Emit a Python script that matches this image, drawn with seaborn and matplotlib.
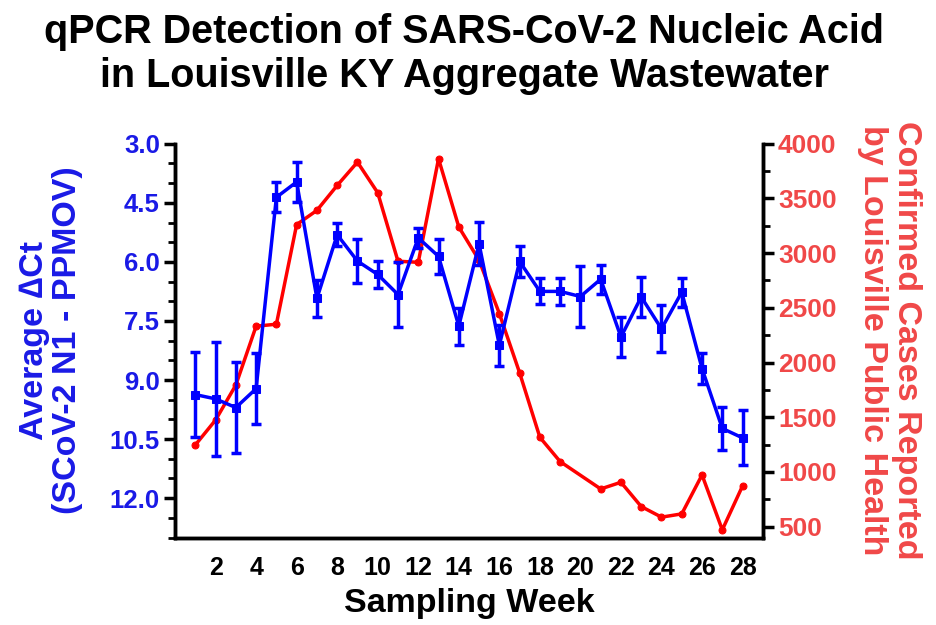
import numpy as np
import pandas as pd
import matplotlib
matplotlib.use("Agg")
import matplotlib.pyplot as plt
from matplotlib.ticker import MultipleLocator, FormatStrFormatter
import seaborn as sns

# ---- data ----
weeks = list(range(1, 29))
delta_ct = [9.37, 9.48, 9.70, 9.22, 4.36, 3.97, 6.93, 5.31, 5.98, 6.32,
            6.83, 5.39, 5.86, 7.63, 5.54, 8.12, 5.99, 6.75, 6.75, 6.88,
            6.44, 7.91, 6.89, 7.70, 6.77, 8.71, 10.23, 10.47]
delta_ct_err = [1.09, 1.45, 1.15, 0.90, 0.38, 0.50, 0.48, 0.29, 0.56, 0.35,
                0.82, 0.26, 0.45, 0.47, 0.55, 0.52, 0.40, 0.33, 0.35, 0.78,
                0.37, 0.50, 0.50, 0.60, 0.37, 0.39, 0.55, 0.70]
case_weeks = [1, 2, 3, 4, 5, 6, 7, 8, 9, 10, 11, 12, 13, 14, 15, 16, 17, 18,
              19, 21, 22, 23, 24, 25, 26, 27, 28]
cases = [1246, 1474, 1794, 2332, 2350, 3261, 3391, 3619, 3832, 3552, 2926,
         2916, 3863, 3239, 2935, 2448, 1906, 1316, 1094, 844, 905, 683, 586,
         616, 972, 470, 872]

title = "qPCR Detection of SARS-CoV-2 Nucleic Acid\nin Louisville KY Aggregate Wastewater"
xlabel = "Sampling Week"
ylabel_left = "Average \u2206Ct\n(SCoV-2 N1 - PPMOV)"
ylabel_right = "Confirmed Cases Reported\nby Louisville Public Health"

ct_df = pd.DataFrame({"week": weeks, "ct": delta_ct, "err": delta_ct_err})
case_df = pd.DataFrame({"week": case_weeks, "cases": cases})

# ---- style ----
sns.set_theme(style="white")
plt.rcParams["font.family"] = ["Liberation Sans", "DejaVu Sans"]
plt.rcParams["font.weight"] = "bold"
plt.rcParams["text.color"] = "black"
plt.rcParams["axes.labelcolor"] = "black"
plt.rcParams["xtick.color"] = "black"
plt.rcParams["ytick.color"] = "black"

BLUE = "#0000FF"
BLUE_TXT = "#1A1AE6"
RED = "#FF0000"
RED_TXT = "#F04848"

fig = plt.figure(figsize=(9.36, 6.25), dpi=100)
ax = fig.add_axes([0.187, 0.140, 0.628, 0.630])
ax2 = ax.twinx()

# cases (right axis)
sns.lineplot(data=case_df, x="week", y="cases", ax=ax2, color=RED,
             marker="o", markersize=5, markeredgecolor=RED, linewidth=2.5,
             zorder=2)

# delta Ct (left axis)
ax.errorbar(ct_df["week"], ct_df["ct"], yerr=ct_df["err"], fmt="none",
            ecolor=BLUE, elinewidth=2.5, capsize=3.5, capthick=2.5, zorder=3)
sns.lineplot(data=ct_df, x="week", y="ct", ax=ax, color=BLUE, marker="s",
             markersize=6, markeredgecolor=BLUE, linewidth=2.5, zorder=4)

# draw left axis above right
ax.set_zorder(ax2.get_zorder() + 1)
ax.patch.set_visible(False)

ax.set_xlim(0, 29)
ax.set_ylim(13, 3)
ax2.set_ylim(400, 4000)

ax.xaxis.set_minor_locator(MultipleLocator(1))
ax.set_xticks(list(range(2, 29, 2)))
ax.yaxis.set_minor_locator(MultipleLocator(0.5))
ax.set_yticks([3.0, 4.5, 6.0, 7.5, 9.0, 10.5, 12.0])
ax.yaxis.set_major_formatter(FormatStrFormatter("%.1f"))
ax2.set_yticks(list(range(500, 4001, 500)))
ax2.yaxis.set_minor_locator(MultipleLocator(250))

for a in (ax, ax2):
    for s in ("left", "right", "bottom", "top"):
        a.spines[s].set_color("black")
        a.spines[s].set_linewidth(2.5)
    a.spines["top"].set_visible(False)

ax.tick_params(axis="both", which="major", direction="out", length=8,
               width=2.5, color="black")
ax.tick_params(axis="both", which="minor", direction="out", length=5,
               width=2, color="black")
ax2.tick_params(axis="y", which="major", direction="out", length=8,
                width=2.5, color="black")
ax2.tick_params(axis="y", which="minor", direction="out", length=5,
                width=2, color="black")
ax.tick_params(axis="x", labelsize=18, labelcolor="black", pad=5)
ax.tick_params(axis="y", labelsize=18.5, labelcolor=BLUE_TXT, pad=3)
ax2.tick_params(axis="y", labelsize=19, labelcolor=RED_TXT, pad=3)
for lbl in ax.get_xticklabels() + ax.get_yticklabels() + ax2.get_yticklabels():
    lbl.set_fontweight("bold")

ax.set_xlabel(xlabel, fontsize=24.5, fontweight="bold", color="black", labelpad=6)
ax.set_ylabel(ylabel_left, fontsize=24.5, fontweight="bold", color=BLUE_TXT,
              linespacing=1.12, va="center", ha="center")
ax.yaxis.set_label_coords(-0.211, 0.5)
ax2.set_ylabel(ylabel_right, fontsize=24.5, fontweight="bold", color=RED_TXT,
               rotation=270, linespacing=1.12, va="center", ha="center")
ax2.yaxis.set_label_coords(1.216, 0.5)

fig.text(0.496, 0.913, title, fontsize=28.5, fontweight="bold",
         color="black", ha="center", va="center", linespacing=1.2)

fig.savefig("out.png", dpi=100)
